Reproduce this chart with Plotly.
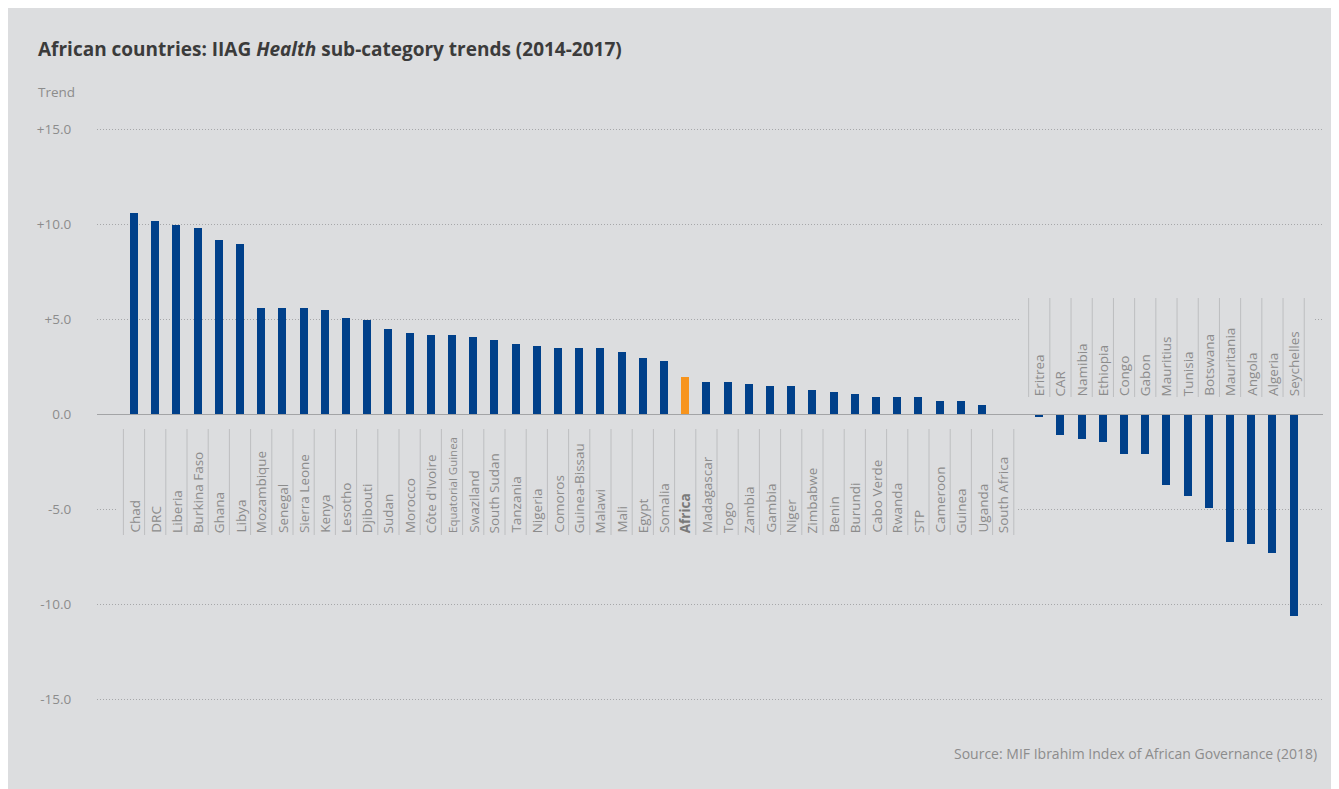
import plotly.graph_objects as go

# ---- data ----
pos_countries = ["Chad", "DRC", "Liberia", "Burkina Faso", "Ghana", "Libya", "Mozambique",
                 "Senegal", "Sierra Leone", "Kenya", "Lesotho", "Djibouti", "Sudan", "Morocco",
                 "Côte d'Ivoire", "Equatorial Guinea", "Swaziland", "South Sudan", "Tanzania",
                 "Nigeria", "Comoros", "Guinea-Bissau", "Malawi", "Mali", "Egypt", "Somalia",
                 "Africa", "Madagascar", "Togo", "Zambia", "Gambia", "Niger", "Zimbabwe", "Benin",
                 "Burundi", "Cabo Verde", "Rwanda", "STP", "Cameroon", "Guinea", "Uganda",
                 "South Africa"]
pos_values = [10.6, 10.2, 10.0, 9.8, 9.2, 9.0, 5.6,
              5.6, 5.6, 5.5, 5.1, 5.0, 4.5, 4.3,
              4.2, 4.2, 4.1, 3.9, 3.7,
              3.6, 3.5, 3.5, 3.5, 3.3, 3.0, 2.8,
              2.0, 1.7, 1.7, 1.6, 1.5, 1.5, 1.3, 1.2,
              1.1, 0.9, 0.9, 0.9, 0.7, 0.7, 0.5,
              0.0]
neg_countries = ["Eritrea", "CAR", "Namibia", "Ethiopia", "Congo", "Gabon", "Mauritius",
                 "Tunisia", "Botswana", "Mauritania", "Angola", "Algeria", "Seychelles"]
neg_values = [-0.15, -1.1, -1.3, -1.45, -2.1, -2.1, -3.7,
              -4.3, -4.9, -6.7, -6.8, -7.3, -10.6]
y_tick_vals = [15, 10, 5, 0, -5, -10, -15]
y_tick_text = ["+15.0", "+10.0", "+5.0", "0.0", "-5.0", "-10.0", "-15.0"]

TITLE = "African countries: IIAG <i>Health</i> sub-category trends (2014-2017)"
SOURCE = "Source: MIF Ibrahim Index of African Governance (2018)"

# ---- styling (page pixel coordinates; the figure sits at an 8px page offset) ----
OFF = 8
W, H = 1327, 781
PL, PR, PT, PB = 97, 1323, 110, 730      # plot area in page px
BLUE = "#00408A"
ORANGE = "#F7941D"
PANEL = "#DCDDDF"
GREY_TXT = "#8C8C8C"
SEP = "#BDBEC0"
FONT = "'Open Sans', 'Noto Sans', sans-serif"
ZERO_PX = 414.5
PX_PER_UNIT = 19.0
GAP = 0.7
STEP = 21.2
FIRST_PX = 134


def px_x(px):
    return (px - PL) / (PR - PL)


def px_y(py):
    return (PB - py) / (PB - PT)


pos_x = list(range(len(pos_countries)))
neg_x = [len(pos_countries) + GAP + i for i in range(len(neg_countries))]

pos_colors = [ORANGE if c == "Africa" else BLUE for c in pos_countries]

fig = go.Figure()
fig.add_trace(go.Bar(x=pos_x, y=pos_values, marker=dict(color=pos_colors, line=dict(width=0)),
                     width=0.38, hoverinfo="skip"))
fig.add_trace(go.Bar(x=neg_x, y=neg_values, marker=dict(color=BLUE, line=dict(width=0)),
                     width=0.38, hoverinfo="skip"))

xmin = -(FIRST_PX - PL) / STEP
xmax = xmin + (PR - PL) / STEP
ytop = (ZERO_PX - PT) / PX_PER_UNIT
ybot = (ZERO_PX - PB) / PX_PER_UNIT

shapes = []
# cover rectangles behind label blocks (hide gridlines)
shapes.append(dict(type="rect", xref="paper", yref="paper", x0=px_x(116), x1=px_x(1016),
                   y0=px_y(542), y1=px_y(424), fillcolor=PANEL, line=dict(width=0), layer="above"))
shapes.append(dict(type="rect", xref="paper", yref="paper", x0=px_x(1021), x1=px_x(1314),
                   y0=px_y(402), y1=px_y(298), fillcolor=PANEL, line=dict(width=0), layer="above"))
# zero line
shapes.append(dict(type="line", xref="paper", yref="y", x0=0, x1=1, y0=0, y1=0,
                   line=dict(color="#A3A4A6", width=1.2), layer="above"))
# separators for positive labels
for i in range(len(pos_countries) + 1):
    xv = i - 0.5
    shapes.append(dict(type="line", xref="x", yref="paper", x0=xv, x1=xv,
                       y0=px_y(535), y1=px_y(429), line=dict(color=SEP, width=1), layer="above"))
# separators for negative labels
for i in range(len(neg_countries) + 1):
    xv = len(pos_countries) + GAP + i - 0.5
    shapes.append(dict(type="line", xref="x", yref="paper", x0=xv, x1=xv,
                       y0=px_y(397), y1=px_y(298), line=dict(color=SEP, width=1), layer="above"))

annotations = []
for xv, name in zip(pos_x, pos_countries):
    is_af = name == "Africa"
    txt = "<b>Africa</b>" if is_af else name
    size = 11.5 if name == "Equatorial Guinea" else 13.5
    annotations.append(dict(x=xv, xref="x", y=px_y(535), yref="paper", text=txt, showarrow=False,
                            textangle=-90, xanchor="center", yanchor="bottom",
                            font=dict(family=FONT, size=size, color="#7A7A7A" if is_af else GREY_TXT)))
for xv, name in zip(neg_x, neg_countries):
    annotations.append(dict(x=xv, xref="x", y=px_y(398), yref="paper", text=name, showarrow=False,
                            textangle=-90, xanchor="center", yanchor="bottom",
                            font=dict(family=FONT, size=13.5, color=GREY_TXT)))
annotations.append(dict(x=px_x(36), y=px_y(49), xref="paper", yref="paper", text="<b>" + TITLE + "</b>",
                        showarrow=False, xanchor="left", yanchor="middle",
                        font=dict(family=FONT, size=19, color="#3B3B3B")))
annotations.append(dict(x=px_x(36), y=px_y(92), xref="paper", yref="paper", text="Trend",
                        showarrow=False, xanchor="left", yanchor="middle",
                        font=dict(family=FONT, size=13.5, color=GREY_TXT)))
annotations.append(dict(x=px_x(1319), y=px_y(753), xref="paper", yref="paper", text=SOURCE,
                        showarrow=False, xanchor="right", yanchor="middle",
                        font=dict(family=FONT, size=14, color=GREY_TXT)))

fig.update_layout(
    width=W, height=H,
    margin=dict(l=PL - OFF, r=OFF + W - PR, t=PT - OFF, b=OFF + H - PB, pad=0),
    paper_bgcolor=PANEL, plot_bgcolor="rgba(0,0,0,0)",
    showlegend=False, bargap=0,
    shapes=shapes, annotations=annotations,
    font=dict(family=FONT, size=13, color=GREY_TXT),
)
fig.update_xaxes(range=[xmin, xmax], showgrid=False, zeroline=False, showticklabels=False,
                 showline=False, ticks="", fixedrange=True)
fig.update_yaxes(range=[ybot, ytop], tickvals=y_tick_vals, ticktext=y_tick_text,
                 showgrid=True, gridcolor="#A6A7A9", griddash="1px,2px", gridwidth=1,
                 zeroline=False, showline=False, ticks="outside", ticklen=22,
                 tickcolor="rgba(0,0,0,0)", tickfont=dict(family=FONT, size=13.5, color=GREY_TXT),
                 fixedrange=True)

fig.write_html("out.html")
